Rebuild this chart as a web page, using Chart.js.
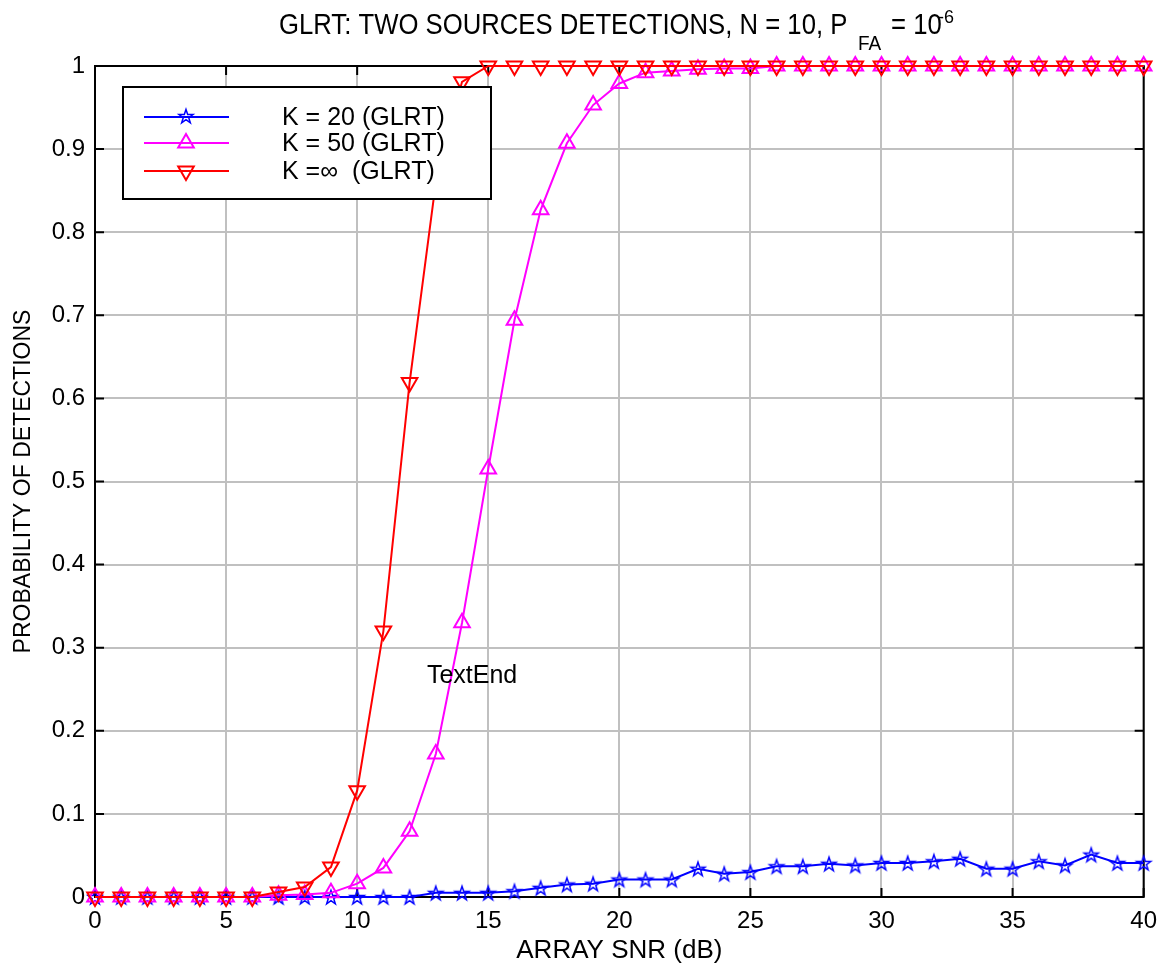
<!DOCTYPE html>
<html>
<head>
<meta charset="utf-8">
<script src="https://cdn.jsdelivr.net/npm/chart.js@4/dist/chart.umd.min.js"></script>
<style>
  body { margin: 0; background: #fff; }
  canvas { display: block; }
</style>
</head>
<body>
<canvas id="glrt" width="1167" height="968"></canvas>
<script>
// Array SNR in dB (x axis)
const snrDb = [0, 1, 2, 3, 4, 5, 6, 7, 8, 9, 10, 11, 12, 13, 14, 15, 16, 17, 18, 19, 20,
    21, 22, 23, 24, 25, 26, 27, 28, 29, 30, 31, 32, 33, 34, 35, 36, 37, 38, 39, 40];

// Probability of detection
const pdK20 = [0, 0, 0, 0, 0, 0, 0, 0, 0, 0, 0, 0, 0, 0.005, 0.005, 0.005, 0.007, 0.011, 0.015, 0.016, 0.021,
    0.021, 0.021, 0.034, 0.028, 0.030, 0.037, 0.037, 0.040, 0.038, 0.041, 0.041, 0.043, 0.046, 0.034, 0.034,
    0.043, 0.038, 0.051, 0.041, 0.041];
const pdK50 = [0, 0, 0, 0, 0, 0, 0, 0.002, 0.003, 0.005, 0.016, 0.035, 0.079, 0.172, 0.33, 0.515, 0.694, 0.827,
    0.907, 0.953, 0.979, 0.992, 0.994, 0.996, 0.997, 0.997, 1, 1, 1, 1, 1, 1, 1, 1, 1, 1, 1, 1, 1, 1, 1];
const pdKInf = [0, 0, 0, 0, 0, 0, 0, 0.006, 0.012, 0.036, 0.128, 0.32, 0.619, 0.86, 0.981, 1, 1, 1, 1, 1, 1,
    1, 1, 1, 1, 1, 1, 1, 1, 1, 1, 1, 1, 1, 1, 1, 1, 1, 1, 1, 1];

const legendLabels = ['K = 20 (GLRT)', 'K = 50 (GLRT)', 'K =\u221E  (GLRT)'];
const xTicks = [0, 5, 10, 15, 20, 25, 30, 35, 40];
const yTicks = [0, 0.1, 0.2, 0.3, 0.4, 0.5, 0.6, 0.7, 0.8, 0.9, 1];
const textEndX = 12.66;
const textEndY = 0.258;

const FONT = '"Liberation Sans", Arial, Helvetica, sans-serif';

function pointsOf(values) {
    return values.map(function (v, i) { return { x: snrDb[i], y: v }; });
}

// Outline pentagram marker (like matlab 'p')
function starImage(colour) {
    var c = document.createElement('canvas');
    c.width = 20; c.height = 20;
    var g = c.getContext('2d');
    g.strokeStyle = colour;
    g.lineWidth = 1.5;
    g.beginPath();
    for (var i = 0; i < 10; i++) {
        var r = (i % 2) ? 2.9 : 7.4;
        var a = -Math.PI / 2 + i * Math.PI / 5;
        g.lineTo(10 + r * Math.cos(a), 10.8 + r * Math.sin(a));
    }
    g.closePath();
    g.stroke();
    return c;
}
const blueStar = starImage('#0000ff');

function drawTriangle(ctx, x, y, r, down) {
    var s = down ? -1 : 1;
    ctx.beginPath();
    ctx.moveTo(x, y - s * r);
    ctx.lineTo(x + r * Math.sin(Math.PI * 2 / 3), y + s * r * 0.5);
    ctx.lineTo(x - r * Math.sin(Math.PI * 2 / 3), y + s * r * 0.5);
    ctx.closePath();
    ctx.stroke();
}

// Box, inward ticks, legend, title and the "TextEnd" label
const decorations = {
    id: 'decorations',
    beforeDatasetsDraw(chart) {
        const ctx = chart.ctx, a = chart.chartArea, x = chart.scales.x, y = chart.scales.y;
        ctx.save();
        ctx.strokeStyle = '#000';
        ctx.lineWidth = 2;
        ctx.strokeRect(a.left, a.top, a.right - a.left, a.bottom - a.top);
        ctx.beginPath();
        xTicks.forEach(function (t) {
            var px = x.getPixelForValue(t);
            ctx.moveTo(px, a.bottom); ctx.lineTo(px, a.bottom - 9);
            ctx.moveTo(px, a.top); ctx.lineTo(px, a.top + 9);
        });
        yTicks.forEach(function (t) {
            var py = y.getPixelForValue(t);
            ctx.moveTo(a.left, py); ctx.lineTo(a.left + 9, py);
            ctx.moveTo(a.right, py); ctx.lineTo(a.right - 9, py);
        });
        ctx.stroke();
        ctx.restore();
    },
    afterDatasetsDraw(chart) {
        const ctx = chart.ctx, x = chart.scales.x, y = chart.scales.y;
        ctx.save();

        // TextEnd
        ctx.fillStyle = '#000';
        ctx.font = '25px ' + FONT;
        ctx.textBaseline = 'alphabetic';
        ctx.textAlign = 'left';
        ctx.fillText('TextEnd', x.getPixelForValue(textEndX), y.getPixelForValue(textEndY));

        // Legend
        var bx = 123, by = 87, bw = 368, bh = 112;
        ctx.fillStyle = '#fff';
        ctx.fillRect(bx, by, bw, bh);
        ctx.strokeStyle = '#000';
        ctx.lineWidth = 2;
        ctx.strokeRect(bx, by, bw, bh);
        var rows = [117, 143, 171];
        var colours = ['#0000ff', '#ff00ff', '#ff0000'];
        rows.forEach(function (ry, i) {
            ctx.strokeStyle = colours[i];
            ctx.lineWidth = 2;
            ctx.beginPath();
            ctx.moveTo(144, ry); ctx.lineTo(229, ry);
            ctx.stroke();
            if (i == 0) {
                ctx.drawImage(blueStar, 186 - 10, ry - 11);
            } else {
                drawTriangle(ctx, 186, ry, 9, i == 2);
            }
            ctx.fillStyle = '#000';
            ctx.font = '25px ' + FONT;
            ctx.textBaseline = 'middle';
            ctx.fillText(legendLabels[i], 282, ry + 1);
        });
        ctx.restore();
    },
    afterDraw(chart) {
        const ctx = chart.ctx;
        ctx.save();
        ctx.fillStyle = '#000';
        ctx.textBaseline = 'alphabetic';
        ctx.textAlign = 'left';
        var big = '25.7px ' + FONT, small = '19px ' + FONT;
        var pieces = [
            { t: 'GLRT: TWO SOURCES DETECTIONS, N = 10, P', f: big, x: 279, y: 34, sy: 1.12 },
            { t: 'FA', f: small, x: 858, y: 50, sy: 1.05 },
            { t: '= 10', f: big, x: 891, y: 34, sy: 1.12 },
            { t: '-6', f: '18px ' + FONT, x: 938, y: 23, sy: 1.05 }
        ];
        pieces.forEach(function (p) {
            ctx.font = p.f;
            ctx.save();
            ctx.translate(p.x, p.y);
            ctx.scale(1, p.sy);
            ctx.fillText(p.t, 0, 0);
            ctx.restore();
        });
        ctx.restore();
    }
};

window.onload = function () {
    const ctx = document.getElementById('glrt').getContext('2d');
    new Chart(ctx, {
        type: 'line',
        data: {
            datasets: [{
                label: legendLabels[0],
                data: pointsOf(pdK20),
                borderColor: '#0000ff',
                borderWidth: 2,
                pointStyle: blueStar,
                pointRadius: 8,
                order: 2,
                clip: false
            }, {
                label: legendLabels[1],
                data: pointsOf(pdK50),
                borderColor: '#ff00ff',
                borderWidth: 2,
                pointStyle: 'triangle',
                pointRadius: 9,
                pointBorderWidth: 2,
                pointBorderColor: '#ff00ff',
                pointBackgroundColor: 'rgba(0,0,0,0)',
                order: 1,
                clip: false
            }, {
                label: legendLabels[2],
                data: pointsOf(pdKInf),
                borderColor: '#ff0000',
                borderWidth: 2,
                pointStyle: 'triangle',
                pointRotation: 180,
                pointRadius: 9,
                pointBorderWidth: 2,
                pointBorderColor: '#ff0000',
                pointBackgroundColor: 'rgba(0,0,0,0)',
                order: 0,
                clip: false
            }]
        },
        options: {
            responsive: false,
            animation: false,
            devicePixelRatio: 1,
            layout: { padding: { top: 66, right: 20, left: 0, bottom: 0 } },
            plugins: { legend: { display: false }, tooltip: { enabled: false } },
            scales: {
                x: {
                    type: 'linear',
                    min: 0,
                    max: 40,
                    afterFit: function (s) { s.height = 71; },
                    afterBuildTicks: function (s) { s.ticks = xTicks.map(function (v) { return { value: v }; }); },
                    border: { display: false },
                    grid: { color: '#c0c0c0', lineWidth: 2, drawTicks: false },
                    ticks: { color: '#000', padding: 10, maxRotation: 0, font: { family: FONT, size: 24 } },
                    title: {
                        display: true, text: 'ARRAY SNR (dB)', color: '#000',
                        font: { family: FONT, size: 26 }, padding: { top: 0, bottom: 2 }
                    }
                },
                y: {
                    min: 0,
                    max: 1,
                    afterFit: function (s) { s.width = 95; },
                    afterBuildTicks: function (s) { s.ticks = yTicks.map(function (v) { return { value: v }; }); },
                    border: { display: false },
                    grid: { color: '#c0c0c0', lineWidth: 2, drawTicks: false },
                    ticks: {
                        color: '#000', padding: 10, font: { family: FONT, size: 24 },
                        callback: function (v) { return String(+v.toFixed(1)); }
                    },
                    title: {
                        display: true, text: 'PROBABILITY OF DETECTIONS', color: '#000',
                        font: { family: FONT, size: 23 }, padding: { top: 10, bottom: 0 }
                    }
                }
            }
        },
        plugins: [decorations]
    });
};
</script>
</body>
</html>
